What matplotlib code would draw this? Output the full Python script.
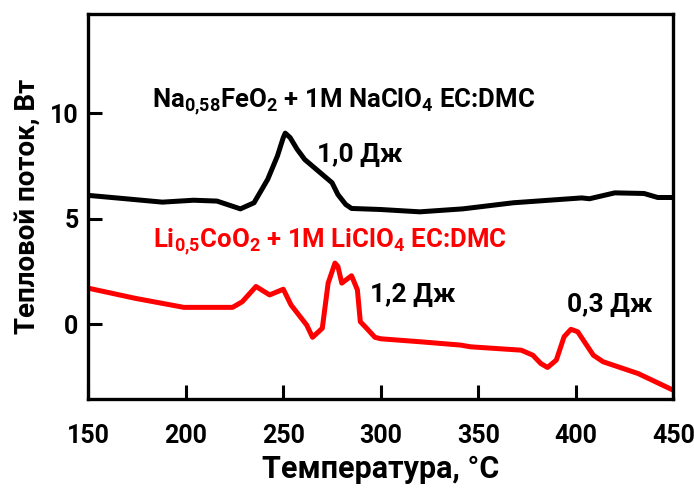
import matplotlib
matplotlib.use("Agg")
import matplotlib.pyplot as plt

# Кривые ДСК: температура, °C и тепловой поток, Вт
temp_na = [150, 168, 188, 204, 216, 228, 235, 242, 247, 250, 251, 253.5, 257, 261, 268,
           275, 278, 282, 285, 300, 320, 342, 368, 403, 407, 420, 435, 442, 450]
flow_na = [6.1, 5.95, 5.78, 5.87, 5.83, 5.46, 5.75, 6.86, 7.97, 8.84, 9.05, 8.84, 8.3, 7.8, 7.25,
           6.7, 6.14, 5.67, 5.48, 5.43, 5.32, 5.46, 5.75, 5.98, 5.94, 6.22, 6.19, 6.0, 6.0]

temp_li = [150, 174, 199, 224, 229, 236, 243, 250, 254, 262, 265, 270, 273, 276.5, 278, 280,
           285, 288, 289.5, 292, 297, 300, 320, 341, 346, 372, 378, 382, 385.5, 390, 394,
           397.5, 401, 409, 414, 432, 450]
flow_li = [1.70, 1.22, 0.79, 0.79, 1.06, 1.78, 1.38, 1.65, 0.9, -0.05, -0.63, -0.2, 1.94, 2.89,
           2.73, 1.94, 2.29, 1.62, 0.11, -0.13, -0.63, -0.70, -0.84, -1.0, -1.08, -1.24, -1.48,
           -1.87, -2.06, -1.71, -0.6, -0.25, -0.37, -1.48, -1.79, -2.35, -3.14]

x_ticks = [150, 200, 250, 300, 350, 400, 450]
y_ticks = [0, 5, 10]

label_na = r"Na$_{0{,}58}$FeO$_2$ + 1M NaClO$_4$ EC:DMC"
label_li = r"Li$_{0{,}5}$CoO$_2$ + 1M LiClO$_4$ EC:DMC"
heat_labels = ["1,0 Дж", "1,2 Дж", "0,3 Дж"]

plt.rcParams['font.family'] = ['Roboto', 'DejaVu Sans']
plt.rcParams['font.weight'] = 'bold'
plt.rcParams['mathtext.fontset'] = 'custom'
plt.rcParams['mathtext.rm'] = 'Roboto:bold'
plt.rcParams['mathtext.it'] = 'Roboto:bold'
plt.rcParams['mathtext.bf'] = 'Roboto:bold'
plt.rcParams['mathtext.default'] = 'rm'

fig = plt.figure(figsize=(6.94, 4.92), dpi=100)
ax = fig.add_axes([0.1272, 0.1884, 0.843, 0.7831])

ax.plot(temp_na, flow_na, color='black', lw=3.6, solid_joinstyle='round', solid_capstyle='round')
ax.plot(temp_li, flow_li, color='#ff0000', lw=3.6, solid_joinstyle='round', solid_capstyle='round')

ax.set_xlim(150, 450)
ax.set_ylim(-3.57, 14.7)
ax.set_xticks(x_ticks)
ax.set_yticks(y_ticks)
ax.tick_params(direction='in', length=10, width=2.2, labelsize=18)
ax.tick_params(axis='x', pad=18)
ax.tick_params(axis='y', pad=7)
for sp in ax.spines.values():
    sp.set_linewidth(2.4)

ax.set_xlabel("Температура, °C", fontsize=22, fontweight='bold', labelpad=4)
ax.set_ylabel("Тепловой поток, Вт", fontsize=20, fontweight='bold', labelpad=7)

ax.text(182.7, 10.28, label_na, fontsize=18.5, color='black', ha='left', va='baseline')
ax.text(183.2, 3.65, label_li, fontsize=18.5, color='#ff0000', ha='left', va='baseline')
ax.text(267.3, 7.68, heat_labels[0], fontsize=19, ha='left', va='baseline')
ax.text(294.5, 1.04, heat_labels[1], fontsize=19, ha='left', va='baseline')
ax.text(395.5, 0.57, heat_labels[2], fontsize=19, ha='left', va='baseline')

fig.savefig("out.png", dpi=100)
